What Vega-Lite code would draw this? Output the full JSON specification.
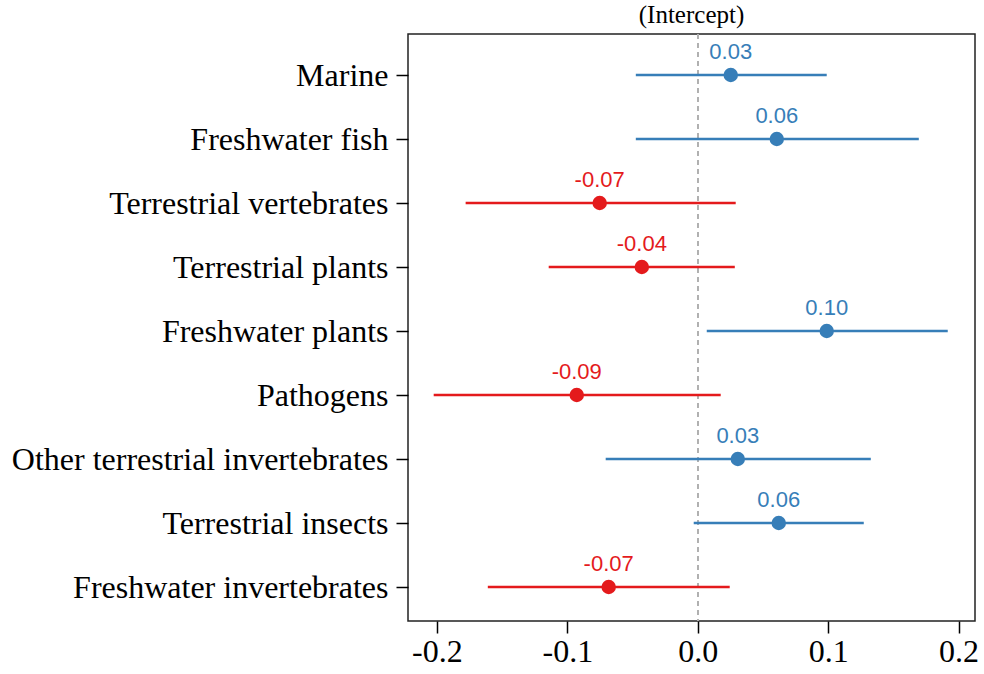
{
  "$schema": "https://vega.github.io/schema/vega-lite/v6.json",
  "width": 567,
  "height": 587,
  "autosize": "none",
  "padding": {"left": 408, "top": 34, "right": 9, "bottom": 53},
  "background": "white",
  "config": {
    "view": {"stroke": "#222222", "strokeWidth": 1.5}
  },
  "title": {"text": "(Intercept)", "font": "Liberation Serif", "fontSize": 25, "fontWeight": "normal", "color": "#000000", "anchor": "middle", "offset": 5},
  "data": {
    "values": [
      {"group": "Marine", "est": 0.0253, "lo": -0.0475, "hi": 0.0989, "label": "0.03", "sign": "pos"},
      {"group": "Freshwater fish", "est": 0.0606, "lo": -0.0475, "hi": 0.1695, "label": "0.06", "sign": "pos"},
      {"group": "Terrestrial vertebrates", "est": -0.0752, "lo": -0.178, "hi": 0.0291, "label": "-0.07", "sign": "neg"},
      {"group": "Terrestrial plants", "est": -0.0429, "lo": -0.1143, "hi": 0.0284, "label": "-0.04", "sign": "neg"},
      {"group": "Freshwater plants", "est": 0.0989, "lo": 0.0069, "hi": 0.1917, "label": "0.10", "sign": "pos"},
      {"group": "Pathogens", "est": -0.0928, "lo": -0.2025, "hi": 0.0176, "label": "-0.09", "sign": "neg"},
      {"group": "Other terrestrial invertebrates", "est": 0.0307, "lo": -0.0706, "hi": 0.1327, "label": "0.03", "sign": "pos"},
      {"group": "Terrestrial insects", "est": 0.0621, "lo": -0.0031, "hi": 0.1273, "label": "0.06", "sign": "pos"},
      {"group": "Freshwater invertebrates", "est": -0.0683, "lo": -0.161, "hi": 0.0245, "label": "-0.07", "sign": "neg"}
    ]
  },
  "encoding": {
    "y": {
      "field": "group", "type": "nominal", "sort": null,
      "scale": {"type": "point", "range": [41, 553], "padding": 0},
      "axis": {"title": null, "grid": false, "domain": false, "tickSize": 12, "tickWidth": 1.5, "tickColor": "#000000", "labelPadding": 8, "labelLimit": 0, "labelFont": "Liberation Serif", "labelFontSize": 32, "labelColor": "#000000"}
    }
  },
  "layer": [
    {
      "mark": {"type": "rule", "strokeDash": [5, 4], "color": "#b0b0b0", "strokeWidth": 1.3},
      "encoding": {"x": {"datum": 0, "type": "quantitative"}, "y": null}
    },
    {
      "mark": {"type": "rule", "strokeWidth": 2.5},
      "encoding": {
        "x": {"field": "lo", "type": "quantitative", "scale": {"domain": [-0.2222, 0.2126], "nice": false, "zero": false}, "axis": {"title": null, "grid": false, "domain": false, "values": [-0.2, -0.1, 0.0, 0.1, 0.2], "format": ".1f", "labelExpr": "replace(datum.label, '\u2212', '-')", "tickSize": 12, "tickWidth": 1.5, "tickColor": "#000000", "labelPadding": 3, "labelFont": "Liberation Serif", "labelFontSize": 32, "labelColor": "#000000"}},
        "x2": {"field": "hi"},
        "color": {"field": "sign", "type": "nominal", "scale": {"domain": ["pos", "neg"], "range": ["#377EB8", "#E41A1C"]}, "legend": null}
      }
    },
    {
      "mark": {"type": "circle", "size": 210, "opacity": 1},
      "encoding": {
        "x": {"field": "est", "type": "quantitative"},
        "color": {"field": "sign", "type": "nominal", "legend": null}
      }
    },
    {
      "mark": {"type": "text", "dy": -23, "font": "Liberation Sans", "fontSize": 22, "baseline": "middle"},
      "encoding": {
        "x": {"field": "est", "type": "quantitative"},
        "text": {"field": "label"},
        "color": {"field": "sign", "type": "nominal", "legend": null}
      }
    }
  ]
}
